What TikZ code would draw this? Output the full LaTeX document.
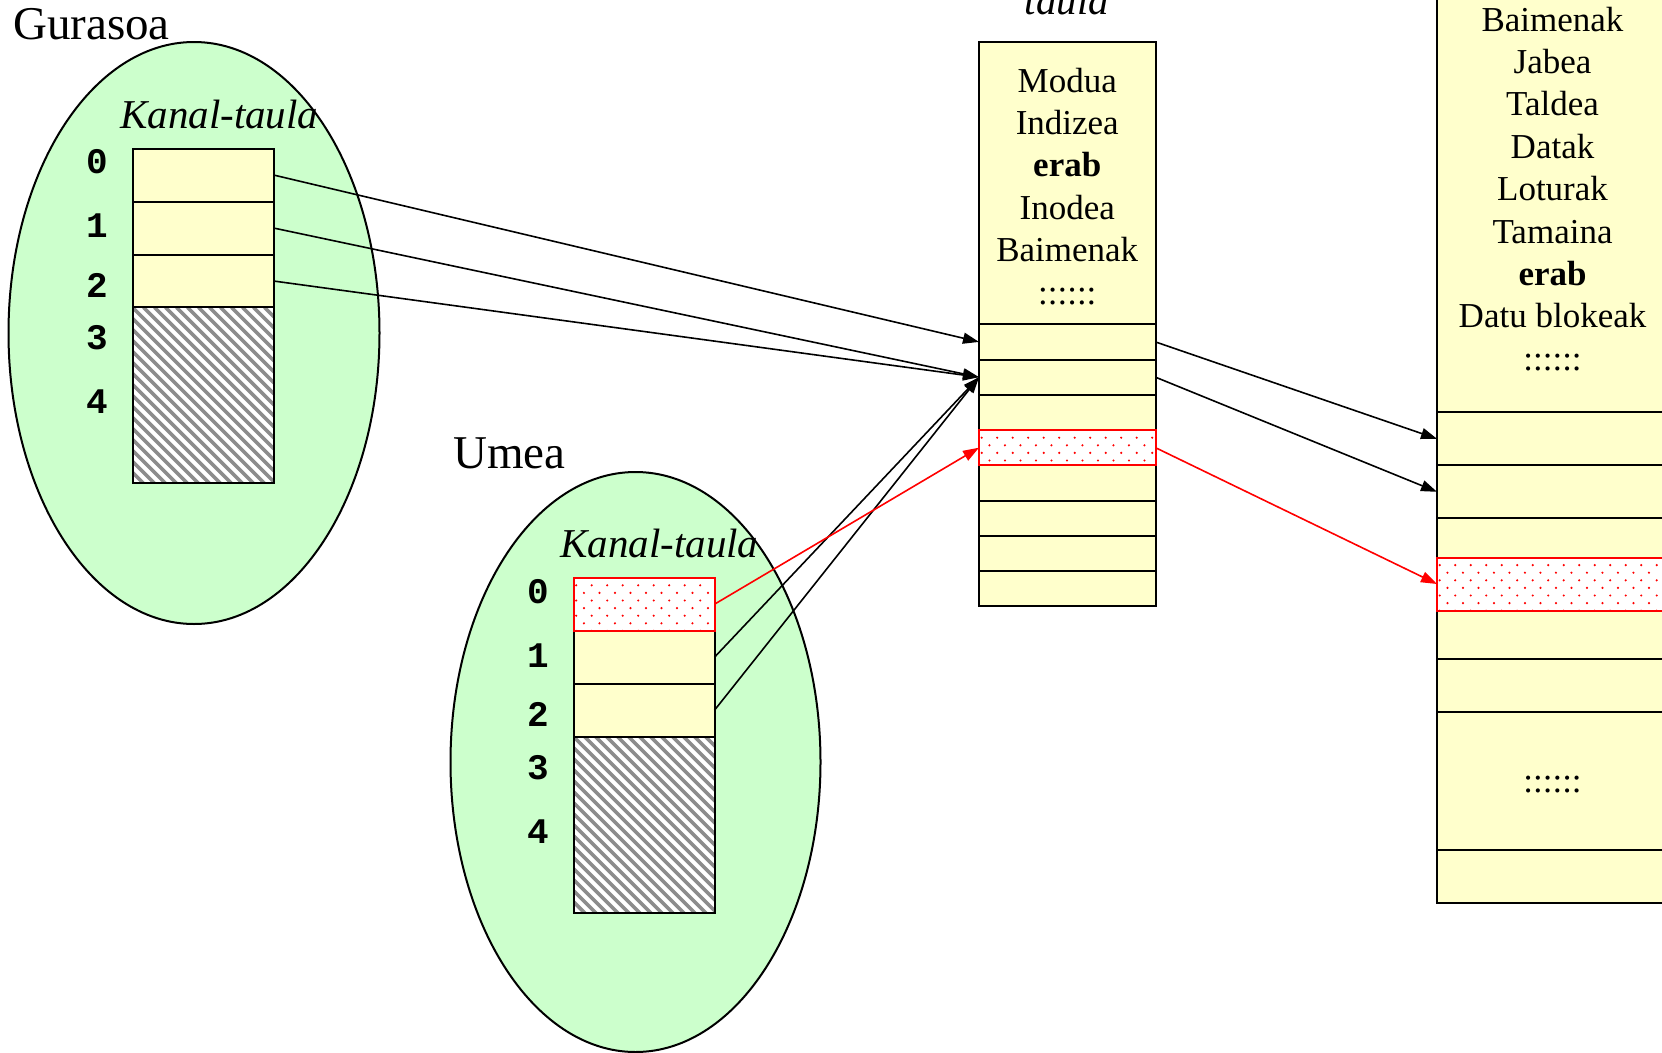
\documentclass[tikz,border=0pt]{standalone}
\usepackage{fontspec}
\setmainfont{Liberation Serif}
\newfontfamily\monob{Liberation Mono}
\usetikzlibrary{shapes.geometric, arrows.meta}
\definecolor{egreen}{HTML}{CCFFCC}
\definecolor{eyel}{HTML}{FFFFCC}
\definecolor{hgray}{HTML}{8C8C8C}
\newcommand\myhatch[4]{%
  \begin{scope}
    \clip (#1,#2) rectangle (#3,#4);
    \foreach \i in {-20,...,16}
      \draw[hgray, line width=3.6pt] ({#1+11*\i},#2) -- ++(220,220);
  \end{scope}
  \draw[line width=2pt] (#1,#2) rectangle (#3,#4);}
\newcommand\mydots[4]{%
  \begin{scope}
    \clip ({#1+1.5},{#2+1.5}) rectangle ({#3-1.5},{#4-1.5});
    \foreach \i in {0,...,15}
      \foreach \j in {0,...,4} {
        \fill[red] ({#1+2.7+15.5*\i},{#2+7.6+15.2*\j}) circle (1.2);
        \fill[red] ({#1+10.45+15.5*\i},{#2+15.2+15.2*\j}) circle (1.2);
      }
  \end{scope}}
\begin{document}
\begin{tikzpicture}[x=1pt,y=-1pt,
  cell/.style={draw, line width=2pt, fill=eyel, inner sep=0pt, outer sep=0pt},
  redcell/.style={draw=red, line width=2pt, fill=white, inner sep=0pt, outer sep=0pt},
  hatchcell/.style={draw, line width=2pt, fill=white, inner sep=0pt, outer sep=0pt},
  proc/.style={ellipse, draw, line width=2pt, fill=egreen, inner sep=0pt},
  big/.style={font=\fontsize{47}{56}\selectfont, inner sep=0pt},
  ital/.style={font=\fontsize{41}{49}\selectfont\itshape, inner sep=0pt},
  txt/.style={font=\fontsize{35}{42}\selectfont, inner sep=0pt, anchor=base},
  dig/.style={font=\fontsize{36}{40}\monob\bfseries, inner sep=0pt},
  arr/.style={line width=1.6pt, -{Triangle[length=16pt,width=11pt]}},
  redarr/.style={arr, draw=red, fill=red},
]
\path[use as bounding box] (0,0) rectangle (1662,1052);
\fill[white] (0,0) rectangle (1662,1052);
\clip (0,0) rectangle (1662,1052);

% processes
\node[proc, minimum width=371pt, minimum height=582pt] (pgur) at (194,333) {};
\node[proc, minimum width=370pt, minimum height=580pt] (pume) at (635.5,762) {};
\node[big, anchor=base west] (tgur) at (13,39) {Gurasoa};
\node[big, anchor=base west] (tume) at (453,468) {Umea};
\node[ital, anchor=base west] (kgur) at (120,128) {Kanal-taula};
\node[ital, anchor=base west] (kume) at (560,557) {Kanal-taula};
\node[ital, anchor=base] (tmid) at (1067,14) {taula};

% Gurasoa channel table
\node[cell, minimum width=141pt, minimum height=53pt] (g0) at (203,175) {};
\node[cell, minimum width=141pt, minimum height=53pt] (g1) at (203,228) {};
\node[cell, minimum width=141pt, minimum height=53pt] (g2) at (203,281) {};
\node[hatchcell, minimum width=141pt, minimum height=176pt] (gh) at (203,395.3) {};
\myhatch{132.5}{307.4}{273.5}{483.3}
\foreach \d/\y in {0/162,1/226,2/285,3/338,4/402}
  \node[dig] (gd\d) at (97.5,\y) {\d};

% Umea channel table
\node[redcell, minimum width=141pt, minimum height=53pt] (u0) at (644,604.2) {};
\mydots{573.5}{577.7}{714.5}{630.7}
\node[cell, minimum width=141pt, minimum height=53pt] (u1) at (644,657.2) {};
\node[cell, minimum width=141pt, minimum height=53pt] (u2) at (644,710.2) {};
\node[hatchcell, minimum width=141pt, minimum height=176pt] (uh) at (644,824.6) {};
\myhatch{573.5}{736.7}{714.5}{912.6}
\node[draw=red, line width=2pt, minimum width=141pt, minimum height=53pt, inner sep=0pt] (u0b) at (644,604.2) {};
\foreach \d/\y in {0/592,1/656,2/714,3/768,4/832}
  \node[dig] (ud\d) at (538.5,\y) {\d};

% middle table
\node[cell, minimum width=176.5pt, minimum height=282pt] (mh) at (1067.25,183.35) {};
\foreach \k in {1,...,8}
  \node[cell, minimum width=176.5pt, minimum height=35.25pt] (m\k) at (1067.25,{324.3+35.25*(\k-0.5)}) {};
\node[redcell, minimum width=176.5pt, minimum height=35.25pt] (m4r) at (m4) {};
\mydots{979}{430.1}{1155.5}{465.3}
\foreach [count=\k] \t/\y in {Modua/92, Indizea/134.4, \textbf{erab}/176.8, Inodea/219.2, Baimenak/261.6, ::::::/304}
  \node[txt] (mt\k) at (1067.25,\y) {\t};

% right table
\node[cell, minimum width=231pt, minimum height=484.6pt] (rh) at (1552.5,-30) [anchor=north] {};
\node[cell, minimum width=231pt, minimum height=53pt] (r1) at (1552.5,438.8) {};
\node[cell, minimum width=231pt, minimum height=53pt] (r2) at (1552.5,491.8) {};
\node[cell, minimum width=231pt, minimum height=39.2pt] (r3) at (1552.5,537.9) {};
\node[cell, minimum width=231pt, minimum height=48.8pt] (r5) at (1552.5,634.9) {};
\node[cell, minimum width=231pt, minimum height=53pt] (r6) at (1552.5,685.8) {};
\node[cell, minimum width=231pt, minimum height=137.7pt] (r7) at (1552.5,781.15) {};
\node[cell, minimum width=231pt, minimum height=53pt] (r8) at (1552.5,876.5) {};
\node[redcell, minimum width=231pt, minimum height=53pt] (r4) at (1552.5,584) {};
\mydots{1437}{557.5}{1668}{610.5}
\foreach [count=\k] \t/\y in {Baimenak/31, Jabea/73.4, Taldea/115.8, Datak/158.2, Loturak/200.6, Tamaina/243, \textbf{erab}/285.4, Datu blokeak/327.8, ::::::/370.2}
  \node[txt] (rt\k) at (1552.5,\y) {\t};
\node[txt, anchor=base] (rdots) at (1552.5,792) {::::::};

% connectors
\draw[arr] (g0.east) -- (m1.west);
\draw[arr] (g1.east) -- (m2.west);
\draw[arr] (g2.east) -- (m2.west);
\draw[arr] (u1.east) -- (m2.west);
\draw[arr] (u2.east) -- (m2.west);
\draw[redarr] (u0.east) -- (m4.west);
\draw[arr] (m1.east) -- (r1.west);
\draw[arr] (m2.east) -- (r2.west);
\draw[redarr] (m4.east) -- (r4.west);
\end{tikzpicture}
\end{document}
